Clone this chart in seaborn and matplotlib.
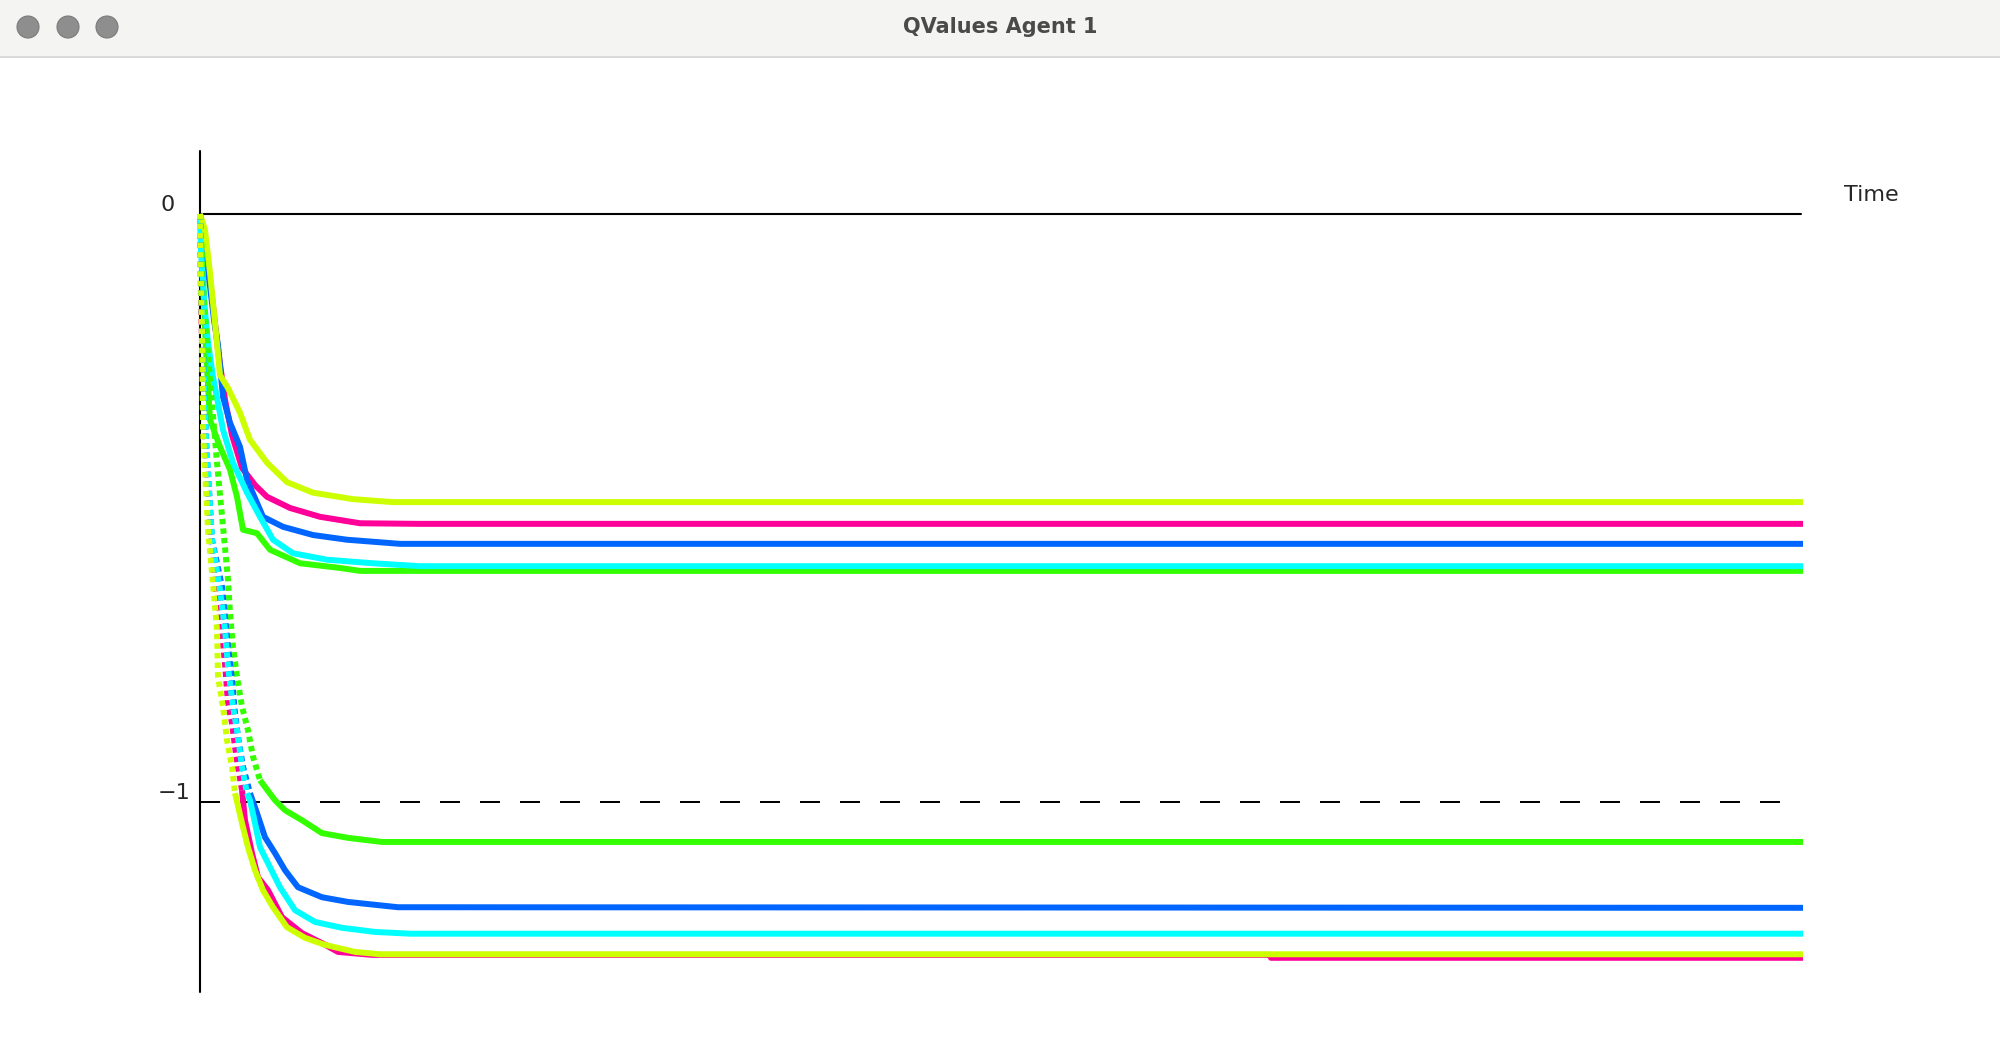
import pandas as pd
import seaborn as sns
import matplotlib.pyplot as plt
from matplotlib.patches import Rectangle, Circle

# colour of each agent action
colors = {
    "a1": "#FF0099",
    "a2": "#33FF00",
    "a3": "#0066FF",
    "a4": "#00FFFF",
    "a5": "#CCFF00",
}

# upper family of Q-value curves (time step, Q value)
up_a5_t = [0, 5, 10, 15, 20, 28, 40, 50, 67, 87, 113, 153, 193, 1603]
up_a5_q = [0, -0.027, -0.100, -0.185, -0.274, -0.296, -0.338, -0.384, -0.423, -0.456, -0.474, -0.485, -0.490, -0.490]
up_a1_t = [0, 10, 18, 25, 32, 42, 55, 67, 90, 120, 160, 220, 1603]
up_a1_q = [0, -0.112, -0.231, -0.316, -0.376, -0.432, -0.461, -0.481, -0.500, -0.515, -0.526, -0.527, -0.527]
up_a3_t = [0, 8, 14, 18, 23, 30, 40, 47, 63, 83, 113, 147, 200, 1603]
up_a3_q = [0, -0.095, -0.180, -0.223, -0.311, -0.355, -0.396, -0.452, -0.515, -0.532, -0.546, -0.554, -0.561, -0.561]
up_a4_t = [0, 1, 4, 8, 13, 23, 33, 47, 60, 73, 93, 127, 173, 220, 1603]
up_a4_q = [0, -0.061, -0.146, -0.219, -0.277, -0.367, -0.423, -0.474, -0.515, -0.554, -0.577, -0.588, -0.594, -0.599, -0.599]
up_a2_t = [0, 3, 6, 10, 20, 30, 37, 43, 57, 70, 100, 140, 160, 1603]
up_a2_q = [0, -0.112, -0.231, -0.350, -0.396, -0.435, -0.481, -0.537, -0.543, -0.571, -0.594, -0.602, -0.607, -0.607]

# lower family
lo_a5_t = [0, 0.5, 2, 3, 8, 13, 17, 18, 23, 27, 32, 35, 42, 48, 55, 63, 73, 87, 105, 125, 155, 180, 1603]
lo_a5_q = [0, -0.078, -0.197, -0.367, -0.537, -0.628, -0.707, -0.787, -0.838, -0.895, -0.940, -0.985, -1.036,
           -1.077, -1.116, -1.150, -1.179, -1.213, -1.231, -1.243, -1.255, -1.259, -1.259]
lo_a1_t = [0, 1, 4, 10, 16, 20, 25, 28, 32, 35, 38, 42, 45, 52, 58, 68, 82, 102, 122, 138, 172, 1070, 1071, 1603]
lo_a1_q = [0, -0.146, -0.350, -0.537, -0.639, -0.679, -0.764, -0.832, -0.866, -0.906, -0.940, -0.980, -1.031,
           -1.087, -1.128, -1.150, -1.196, -1.223, -1.240, -1.255, -1.260, -1.260, -1.265, -1.265]
lo_a3_t = [0, 2, 6, 12, 22, 28, 32, 35, 38, 43, 50, 57, 65, 75, 85, 98, 122, 148, 198, 1603]
lo_a3_q = [0, -0.180, -0.384, -0.554, -0.634, -0.736, -0.793, -0.849, -0.889, -0.940, -0.985, -1.019, -1.060,
           -1.087, -1.116, -1.145, -1.162, -1.170, -1.179, -1.180]
lo_a4_t = [0, 2, 6, 12, 20, 25, 28, 33, 37, 42, 47, 50, 55, 60, 70, 80, 95, 115, 142, 175, 210, 1603]
lo_a4_q = [0, -0.180, -0.384, -0.554, -0.639, -0.707, -0.770, -0.838, -0.878, -0.940, -0.985, -0.997, -1.036,
           -1.077, -1.111, -1.145, -1.184, -1.204, -1.214, -1.221, -1.224, -1.224]
lo_a2_t = [0, 4, 10, 17, 28, 30, 33, 37, 42, 48, 53, 60, 75, 85, 102, 122, 148, 182, 1603]
lo_a2_q = [0, -0.146, -0.282, -0.423, -0.622, -0.679, -0.736, -0.787, -0.838, -0.878, -0.923, -0.963, -0.997,
           -1.014, -1.031, -1.053, -1.061, -1.068, -1.068]

t_end = 1601
y_labels = ["0", "\u22121"]
title = "QValues Agent 1"

upper = [("a1", up_a1_t, up_a1_q), ("a2", up_a2_t, up_a2_q), ("a3", up_a3_t, up_a3_q),
         ("a4", up_a4_t, up_a4_q), ("a5", up_a5_t, up_a5_q)]
lower = [("a1", lo_a1_t, lo_a1_q), ("a2", lo_a2_t, lo_a2_q), ("a3", lo_a3_t, lo_a3_q),
         ("a4", lo_a4_t, lo_a4_q), ("a5", lo_a5_t, lo_a5_q)]


def main():
    sns.set_style("white")
    plt.rcParams["font.family"] = ["DejaVu Sans"]

    fig = plt.figure(figsize=(20, 10.54), dpi=100)
    ax = fig.add_axes([0, 0, 1, 1])
    ax.set_xlim(-200, 1800)
    ax.set_ylim(-1.4286, 0.3639)
    ax.axis("off")

    lw = 4.3
    for name, t, q in upper:
        sns.lineplot(x=t, y=q, color=colors[name], lw=lw, sort=False,
                     estimator=None, ax=ax, solid_capstyle="butt", zorder=3)

    # the lower curves were updated sparsely early on, so the steep part looks dotted
    for name, t, q in lower:
        df = pd.DataFrame({"t": t, "q": q})
        cut = (df["q"] < -0.95).idxmax()
        steep = df.iloc[:cut + 1]
        flat = df.iloc[cut:]
        sns.lineplot(data=steep, x="t", y="q", color=colors[name], lw=lw, sort=False,
                     estimator=None, ax=ax, ls=(0, (0.9, 0.7)), dash_capstyle="butt", zorder=3)
        sns.lineplot(data=flat, x="t", y="q", color=colors[name], lw=lw, sort=False,
                     estimator=None, ax=ax, solid_capstyle="butt", zorder=3)

    # axes drawn by hand like the original java plot
    ax.plot([0, 0], [0.107, -1.323], color="black", lw=1.5, zorder=2)
    ax.plot([0, t_end], [0, 0], color="black", lw=1.5, zorder=2)
    ax.plot([0, 1580], [-1, -1], color="black", lw=1.44, ls=(0, (10, 10)), zorder=2)

    ax.text(-32, 0.015, y_labels[0], fontsize=16, ha="center", va="center")
    ax.text(-10, -0.985, y_labels[1], fontsize=16, ha="right", va="center")
    ax.text(1671, 0.032, "Time", fontsize=16, ha="center", va="center")

    # window title bar
    fig.patches.append(Rectangle((0, 1 - 57 / 1054), 1, 57 / 1054, transform=fig.transFigure,
                                 facecolor="#F4F4F2", edgecolor="none", zorder=5))
    fig.patches.append(Rectangle((0, 1 - 58 / 1054), 1, 1.5 / 1054, transform=fig.transFigure,
                                 facecolor="#D9D9D9", edgecolor="none", zorder=6))
    for cx in [28, 68, 107]:
        fig.patches.append(Circle((cx / 100, (1054 - 27) / 100), 11 / 100,
                                  transform=fig.dpi_scale_trans, facecolor="#8E8E8E",
                                  edgecolor="#7A7A7A", lw=0.8, zorder=6))
    fig.text(0.5, 1 - 27 / 1054, title, fontsize=15, fontweight="bold", color="#4A4A4A",
             ha="center", va="center", zorder=7)

    fig.savefig("out.png", dpi=100)


main()
